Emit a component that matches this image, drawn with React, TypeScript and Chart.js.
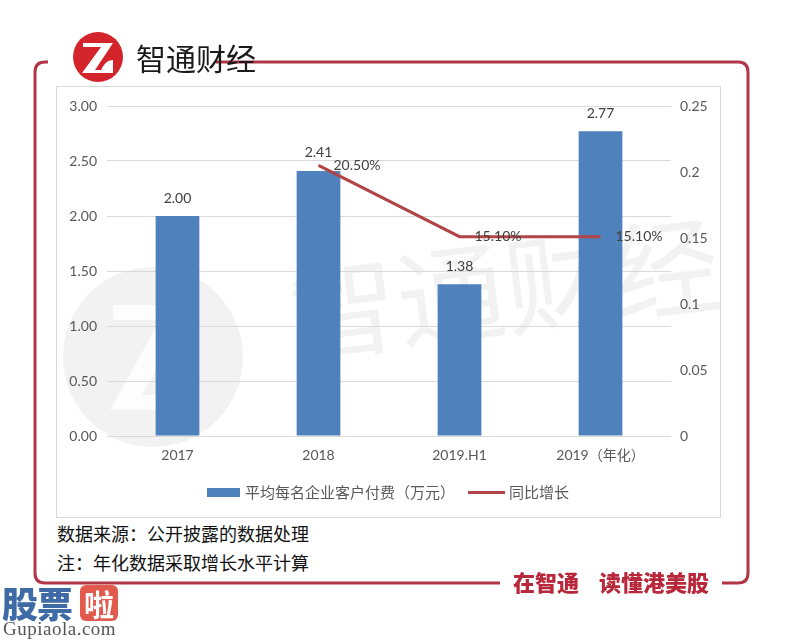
import React, { useEffect, useRef } from 'react';
import { Chart, registerables } from 'chart.js';

Chart.register(...registerables);

const categories = ['2017', '2018', '2019.H1', '2019（年化）'];
const feeValues = [2.0, 2.41, 1.38, 2.77];
const growthValues: (number | null)[] = [null, 0.205, 0.151, 0.151];
const growthLabels = ['', '20.50%', '15.10%', '15.10%'];
const leftTickLabels = ['0.00', '0.50', '1.00', '1.50', '2.00', '2.50', '3.00'];
const rightTickLabels = ['0', '0.05', '0.1', '0.15', '0.2', '0.25'];
const seriesNames = ['平均每名企业客户付费（万元）', '同比增长'];
const noteLines = ['数据来源：公开披露的数据处理', '注：年化数据采取增长水平计算'];

const BAR_COLOR = '#4F81BD';
const LINE_COLOR = '#B04446';
const FRAME_COLOR = '#B23645';
const FONT = 'Lato, "Noto Sans CJK SC", sans-serif';
const CJK = '"Noto Sans CJK SC", sans-serif';

const labelPlugin = {
  id: 'valueLabels',
  afterDatasetsDraw(chart: any) {
    const ctx = chart.ctx;
    ctx.save();
    ctx.font = `14px ${FONT}`;
    ctx.fillStyle = '#404040';
    ctx.textBaseline = 'middle';
    const barMeta = chart.getDatasetMeta(0);
    barMeta.data.forEach((el: any, i: number) => {
      ctx.textAlign = 'center';
      ctx.fillText(feeValues[i].toFixed(2), el.x, el.y - 18);
    });
    const lineMeta = chart.getDatasetMeta(1);
    lineMeta.data.forEach((el: any, i: number) => {
      if (growthValues[i] == null) return;
      ctx.textAlign = 'left';
      ctx.fillText(growthLabels[i], el.x + 15, el.y);
    });
    ctx.restore();
  },
};

function ChartCanvas() {
  const ref = useRef<HTMLCanvasElement | null>(null);
  useEffect(() => {
    if (!ref.current) return;
    const chart = new Chart(ref.current, {
      type: 'bar',
      data: {
        labels: categories,
        datasets: [
          {
            type: 'bar',
            label: seriesNames[0],
            data: feeValues,
            backgroundColor: BAR_COLOR,
            barPercentage: 0.31,
            categoryPercentage: 1,
            yAxisID: 'y',
            order: 2,
          } as any,
          {
            type: 'line',
            label: seriesNames[1],
            data: growthValues,
            borderColor: LINE_COLOR,
            borderWidth: 3,
            pointRadius: 0,
            tension: 0,
            fill: false,
            yAxisID: 'y1',
            order: 1,
          } as any,
        ],
      },
      options: {
        responsive: false,
        animation: false,
        layout: { padding: { top: 19, bottom: 51, left: 0, right: 0 } },
        plugins: { legend: { display: false }, tooltip: { enabled: false } },
        scales: {
          x: {
            grid: { display: false, drawTicks: false },
            border: { display: false },
            ticks: {
              color: '#595959',
              font: { size: 14, family: FONT },
              padding: 11,
              maxRotation: 0,
              autoSkip: false,
            },
            afterFit: (s: any) => {
              s.height = 30;
            },
          },
          y: {
            position: 'left',
            min: 0,
            max: 3,
            ticks: {
              stepSize: 0.5,
              color: '#595959',
              font: { size: 14, family: FONT },
              padding: 10,
              callback: (_v: any, i: number) => leftTickLabels[i],
            },
            grid: { color: '#D9D9D9', drawTicks: false, lineWidth: 1 },
            border: { display: false },
            afterFit: (s: any) => {
              s.width = 50;
            },
          },
          y1: {
            position: 'right',
            min: 0,
            max: 0.25,
            ticks: {
              stepSize: 0.05,
              color: '#595959',
              font: { size: 14, family: FONT },
              padding: 9,
              callback: (_v: any, i: number) => rightTickLabels[i],
            },
            grid: { display: false, drawTicks: false },
            border: { display: false },
            afterFit: (s: any) => {
              s.width = 49;
            },
          },
        },
      } as any,
      plugins: [labelPlugin],
    });
    return () => chart.destroy();
  }, []);
  return (
    <canvas
      ref={ref}
      width={663}
      height={430}
      style={{ position: 'absolute', left: 57, top: 87, width: 663, height: 430 }}
    />
  );
}

export default function App() {
  return (
    <div
      style={{
        position: 'absolute',
        left: 0,
        top: 0,
        width: 787,
        height: 641,
        background: '#fff',
        overflow: 'hidden',
        fontFamily: CJK,
      }}
    >
      {/* chart background watermark */}
      <svg width={787} height={641} style={{ position: 'absolute', left: 0, top: 0 }}>
        <circle cx={153} cy={357} r={90} fill="#F2F2F2" />
        <path d="M113 305 H193 L142 395 H193 V410 H110 L160 320 H113 Z" fill="#FFFFFF" opacity={0.8} />
        <text
          x={506}
          y={300}
          textAnchor="middle"
          dominantBaseline="middle"
          fontSize={108}
          fill="#F2F2F2"
          fontFamily={CJK}
          transform="rotate(-7 506 300)"
        >
          智通财经
        </text>
      </svg>

      {/* chart box */}
      <div
        style={{
          position: 'absolute',
          left: 56,
          top: 86,
          width: 665,
          height: 432,
          border: '1px solid #D9D9D9',
          boxSizing: 'border-box',
        }}
      />
      <ChartCanvas />

      {/* legend */}
      <div style={{ position: 'absolute', left: 207, top: 488, width: 33, height: 9, background: BAR_COLOR }} />
      <div
        style={{
          position: 'absolute',
          left: 245,
          top: 481,
          fontSize: 15,
          lineHeight: '22px',
          color: '#595959',
          whiteSpace: 'nowrap',
        }}
      >
        {seriesNames[0]}
      </div>
      <div style={{ position: 'absolute', left: 468, top: 491, width: 37, height: 3, background: LINE_COLOR }} />
      <div
        style={{
          position: 'absolute',
          left: 509,
          top: 481,
          fontSize: 15,
          lineHeight: '22px',
          color: '#595959',
          whiteSpace: 'nowrap',
        }}
      >
        {seriesNames[1]}
      </div>

      {/* notes */}
      <div
        style={{
          position: 'absolute',
          left: 57,
          top: 519,
          fontSize: 18,
          lineHeight: '29px',
          color: '#111',
          whiteSpace: 'nowrap',
        }}
      >
        <div>{noteLines[0]}</div>
        <div>{noteLines[1]}</div>
      </div>

      {/* frame */}
      <svg width={787} height={641} style={{ position: 'absolute', left: 0, top: 0 }}>
        <path
          d="M48 62 H45 Q35 62 35 72 V573 Q35 583 45 583 H500"
          stroke={FRAME_COLOR}
          strokeWidth={3}
          fill="none"
        />
        <path
          d="M216 62 H738 Q748 62 748 72 V573 Q748 583 738 583 H722"
          stroke={FRAME_COLOR}
          strokeWidth={3}
          fill="none"
        />
        {/* logo */}
        <circle cx={98} cy={57} r={25} fill="#D3232B" />
        <path d="M83 43 H113 L95 70 H113 V73 H82 L101 47 H83 Z" fill="#FFFFFF" />
        <path d="M100 73 Q104 60 113 60 V73 Z" fill="#FFFFFF" />
      </svg>
      <div
        style={{
          position: 'absolute',
          left: 136,
          top: 38,
          fontSize: 30,
          lineHeight: '38px',
          color: '#1a1a1a',
          whiteSpace: 'nowrap',
        }}
      >
        智通财经
      </div>

      {/* slogan */}
      <div
        style={{
          position: 'absolute',
          left: 513,
          top: 567,
          fontSize: 22,
          lineHeight: '28px',
          fontWeight: 900,
          color: '#B8283A',
          whiteSpace: 'nowrap',
        }}
      >
        在智通<span style={{ display: 'inline-block', width: 20 }} />读懂港美股
      </div>

      {/* site watermark */}
      <div style={{ position: 'absolute', left: 0, top: 585, width: 122, height: 56, background: '#fff' }} />
      <div
        style={{
          position: 'absolute',
          left: 2,
          top: 582,
          fontSize: 36,
          lineHeight: '40px',
          fontWeight: 900,
          color: '#3E6AA6',
          whiteSpace: 'nowrap',
          letterSpacing: -1,
        }}
      >
        股票
      </div>
      <div
        style={{
          position: 'absolute',
          left: 80,
          top: 585,
          width: 38,
          height: 36,
          borderRadius: 6,
          background: '#E15A4C',
          color: '#fff',
          fontSize: 30,
          lineHeight: '36px',
          textAlign: 'center',
          fontWeight: 700,
        }}
      >
        啦
      </div>
      <div
        style={{
          position: 'absolute',
          left: 3,
          top: 618,
          fontSize: 19,
          lineHeight: '22px',
          color: '#555',
          fontFamily: '"Liberation Serif", "DejaVu Serif", serif',
          whiteSpace: 'nowrap',
          letterSpacing: 0.5,
        }}
      >
        Gupiaola.com
      </div>
    </div>
  );
}
